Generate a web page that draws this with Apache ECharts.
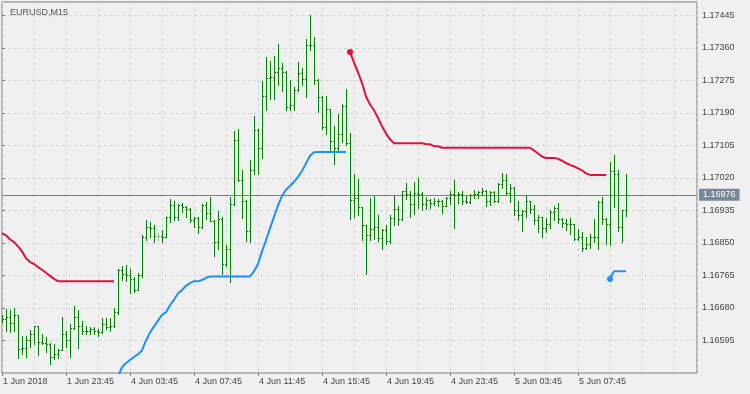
<!DOCTYPE html>
<html>
<head>
<meta charset="utf-8">
<title>EURUSD,M15</title>
<script src="https://cdn.jsdelivr.net/npm/echarts@6/dist/echarts.min.js"></script>
<style>
  html, body { margin: 0; padding: 0; background: #f0f0f0; }
  #chart { width: 750px; height: 394px; }
</style>
</head>
<body>
<div id="chart"></div>
<script>
const symbolName = 'EURUSD,M15';

// one label every 16 bars (4 hours of M15)
const timeLabels = ['1 Jun 2018', '1 Jun 23:45', '4 Jun 03:45', '4 Jun 07:45', '4 Jun 11:45',
  '4 Jun 15:45', '4 Jun 19:45', '4 Jun 23:45', '5 Jun 03:45', '5 Jun 07:45'];
const priceTicks = [1.16595, 1.16680, 1.16765, 1.16850, 1.16935, 1.17020,
  1.17105, 1.17190, 1.17275, 1.17360, 1.17445];

const barOpen = [
  1.16656, 1.16652, 1.16656, 1.16640, 1.16661, 1.16573, 1.16576, 1.16597, 1.16613, 1.16632,
  1.16591, 1.16589, 1.16586, 1.16552, 1.16560, 1.16571, 1.16613, 1.16597, 1.16628, 1.16656,
  1.16632, 1.16619, 1.16621, 1.16626, 1.16621, 1.16617, 1.16639, 1.16630, 1.16632, 1.16669,
  1.16778, 1.16769, 1.16766, 1.16755, 1.16728, 1.16765, 1.16865, 1.16891, 1.16889, 1.16867,
  1.16867, 1.16866, 1.16918, 1.16950, 1.16919, 1.16948, 1.16944, 1.16939, 1.16909, 1.16916,
  1.16891, 1.16948, 1.16928, 1.16907, 1.16852, 1.16913, 1.16796, 1.16835, 1.16952, 1.17120,
  1.17015, 1.16961, 1.16880, 1.17040, 1.17146, 1.17098, 1.17233, 1.17281, 1.17284, 1.17297,
  1.17308, 1.17297, 1.17205, 1.17210, 1.17249, 1.17294, 1.17279, 1.17368, 1.17367, 1.17277,
  1.17231, 1.17153, 1.17199, 1.17116, 1.17099, 1.17136, 1.17208, 1.17111, 1.16963, 1.16968,
  1.16944, 1.16896, 1.16870, 1.16887, 1.16891, 1.16863, 1.16885, 1.16854, 1.16916, 1.16939,
  1.16913, 1.16986, 1.16979, 1.16952, 1.16980, 1.16978, 1.16952, 1.16963, 1.16954, 1.16961,
  1.16959, 1.16947, 1.16968, 1.16977, 1.16975, 1.16979, 1.16960, 1.16957, 1.16976, 1.16979,
  1.16982, 1.16987, 1.16961, 1.16983, 1.16960, 1.17003, 1.17015, 1.16981, 1.16994, 1.16935,
  1.16924, 1.16933, 1.16959, 1.16939, 1.16911, 1.16918, 1.16890, 1.16900, 1.16930, 1.16941,
  1.16913, 1.16903, 1.16900, 1.16899, 1.16861, 1.16865, 1.16837, 1.16848, 1.16865, 1.16866,
  1.16956, 1.16913, 1.16900, 1.17037, 1.17029, 1.16893, 1.16935
];
const barHigh = [
  1.16661, 1.16678, 1.16675, 1.16681, 1.16662, 1.16608, 1.16608, 1.16623, 1.16634, 1.16634,
  1.16613, 1.16604, 1.16588, 1.16586, 1.16573, 1.16656, 1.16621, 1.16639, 1.16684, 1.16674,
  1.16647, 1.16634, 1.16630, 1.16630, 1.16626, 1.16654, 1.16654, 1.16654, 1.16681, 1.16783,
  1.16791, 1.16792, 1.16781, 1.16762, 1.16771, 1.16870, 1.16909, 1.16905, 1.16896, 1.16876,
  1.16883, 1.16919, 1.16966, 1.16961, 1.16951, 1.16954, 1.16946, 1.16941, 1.16919, 1.16918,
  1.16951, 1.16957, 1.16970, 1.16911, 1.16933, 1.16918, 1.16844, 1.16970, 1.17143, 1.17147,
  1.17042, 1.16963, 1.17066, 1.17181, 1.17149, 1.17273, 1.17336, 1.17327, 1.17340, 1.17371,
  1.17320, 1.17299, 1.17275, 1.17259, 1.17323, 1.17308, 1.17384, 1.17445, 1.17388, 1.17278,
  1.17233, 1.17233, 1.17201, 1.17155, 1.17186, 1.17214, 1.17253, 1.17137, 1.17031, 1.17018,
  1.16945, 1.16898, 1.16968, 1.16974, 1.16922, 1.16887, 1.16896, 1.16922, 1.16973, 1.16946,
  1.16987, 1.17007, 1.16985, 1.17009, 1.17020, 1.16983, 1.16970, 1.16966, 1.16968, 1.16966,
  1.16963, 1.16970, 1.16987, 1.17015, 1.16983, 1.16985, 1.16974, 1.16977, 1.16989, 1.16985,
  1.16994, 1.16988, 1.16987, 1.16986, 1.17007, 1.17033, 1.17031, 1.17005, 1.16996, 1.16959,
  1.16935, 1.16972, 1.16961, 1.16948, 1.16922, 1.16919, 1.16916, 1.16937, 1.16946, 1.16954,
  1.16916, 1.16913, 1.16916, 1.16900, 1.16887, 1.16878, 1.16865, 1.16874, 1.16913, 1.16960,
  1.16970, 1.16916, 1.17061, 1.17079, 1.17040, 1.16937, 1.17029
];
const barLow = [
  1.16643, 1.16621, 1.16617, 1.16621, 1.16550, 1.16560, 1.16552, 1.16578, 1.16586, 1.16556,
  1.16586, 1.16565, 1.16534, 1.16547, 1.16550, 1.16569, 1.16578, 1.16552, 1.16626, 1.16576,
  1.16613, 1.16613, 1.16613, 1.16613, 1.16608, 1.16615, 1.16626, 1.16621, 1.16630, 1.16665,
  1.16752, 1.16750, 1.16719, 1.16721, 1.16726, 1.16761, 1.16857, 1.16865, 1.16852, 1.16859,
  1.16852, 1.16865, 1.16905, 1.16909, 1.16909, 1.16931, 1.16919, 1.16905, 1.16891, 1.16876,
  1.16889, 1.16913, 1.16907, 1.16817, 1.16835, 1.16768, 1.16791, 1.16748, 1.16950, 1.17013,
  1.16915, 1.16855, 1.16852, 1.17031, 1.17031, 1.17073, 1.17197, 1.17227, 1.17227, 1.17262,
  1.17247, 1.17198, 1.17198, 1.17198, 1.17247, 1.17262, 1.17231, 1.17355, 1.17265, 1.17192,
  1.17149, 1.17134, 1.17090, 1.17057, 1.17094, 1.17114, 1.17105, 1.16913, 1.16919, 1.16922,
  1.16857, 1.16769, 1.16858, 1.16861, 1.16855, 1.16835, 1.16848, 1.16850, 1.16896, 1.16896,
  1.16911, 1.16966, 1.16919, 1.16926, 1.16942, 1.16935, 1.16939, 1.16942, 1.16948, 1.16946,
  1.16928, 1.16946, 1.16951, 1.16889, 1.16954, 1.16951, 1.16954, 1.16955, 1.16968, 1.16967,
  1.16976, 1.16946, 1.16948, 1.16957, 1.16957, 1.16994, 1.16979, 1.16957, 1.16924, 1.16911,
  1.16881, 1.16919, 1.16928, 1.16899, 1.16878, 1.16865, 1.16878, 1.16890, 1.16911, 1.16902,
  1.16893, 1.16883, 1.16874, 1.16858, 1.16857, 1.16829, 1.16835, 1.16836, 1.16852, 1.16835,
  1.16899, 1.16846, 1.16845, 1.16944, 1.16881, 1.16852, 1.16920
];
const barClose = [
  1.16652, 1.16656, 1.16640, 1.16661, 1.16573, 1.16576, 1.16597, 1.16613, 1.16632, 1.16591,
  1.16589, 1.16586, 1.16552, 1.16560, 1.16571, 1.16613, 1.16597, 1.16628, 1.16656, 1.16632,
  1.16619, 1.16621, 1.16626, 1.16621, 1.16617, 1.16639, 1.16630, 1.16632, 1.16669, 1.16778,
  1.16769, 1.16766, 1.16755, 1.16728, 1.16765, 1.16865, 1.16891, 1.16889, 1.16867, 1.16867,
  1.16866, 1.16918, 1.16950, 1.16919, 1.16948, 1.16944, 1.16939, 1.16909, 1.16916, 1.16891,
  1.16948, 1.16928, 1.16907, 1.16852, 1.16913, 1.16796, 1.16835, 1.16952, 1.17120, 1.17015,
  1.16961, 1.16880, 1.17040, 1.17146, 1.17098, 1.17233, 1.17281, 1.17284, 1.17297, 1.17308,
  1.17297, 1.17205, 1.17210, 1.17249, 1.17294, 1.17279, 1.17368, 1.17367, 1.17277, 1.17231,
  1.17153, 1.17199, 1.17116, 1.17099, 1.17136, 1.17208, 1.17111, 1.16963, 1.16968, 1.16944,
  1.16896, 1.16870, 1.16887, 1.16891, 1.16863, 1.16885, 1.16854, 1.16916, 1.16939, 1.16913,
  1.16986, 1.16979, 1.16952, 1.16980, 1.16978, 1.16952, 1.16963, 1.16954, 1.16961, 1.16959,
  1.16947, 1.16968, 1.16977, 1.16975, 1.16979, 1.16960, 1.16957, 1.16976, 1.16979, 1.16982,
  1.16987, 1.16961, 1.16983, 1.16960, 1.17003, 1.17015, 1.16981, 1.16994, 1.16935, 1.16924,
  1.16933, 1.16959, 1.16939, 1.16911, 1.16918, 1.16890, 1.16900, 1.16930, 1.16941, 1.16913,
  1.16903, 1.16900, 1.16899, 1.16861, 1.16865, 1.16837, 1.16848, 1.16865, 1.16866, 1.16956,
  1.16913, 1.16900, 1.17037, 1.17029, 1.16893, 1.16935, 1.16976
];

// trailing stop lines, each segment starts at a bar index
const upperStartA = 0;
const upperA = [1.16876, 1.16870, 1.16859, 1.16852, 1.16841, 1.16828, 1.16810, 1.16800, 1.16795, 1.16787,
  1.16780, 1.16772, 1.16764, 1.16756, 1.16750, 1.16750, 1.16750, 1.16750, 1.16750, 1.16750,
  1.16750, 1.16750, 1.16750, 1.16750, 1.16750, 1.16750, 1.16750, 1.16750, 1.16750];
const upperStartB = 87;
const upperB = [1.17349, 1.17322, 1.17296, 1.17268, 1.17233, 1.17212, 1.17197, 1.17177, 1.17155, 1.17136,
  1.17121, 1.17111, 1.17111, 1.17111, 1.17111, 1.17111, 1.17111, 1.17111, 1.17111, 1.17108,
  1.17108, 1.17103, 1.17103, 1.17099, 1.17099, 1.17099, 1.17099, 1.17099, 1.17099, 1.17099,
  1.17099, 1.17099, 1.17099, 1.17099, 1.17099, 1.17099, 1.17099, 1.17099, 1.17099, 1.17099,
  1.17099, 1.17099, 1.17099, 1.17099, 1.17099, 1.17099, 1.17092, 1.17084, 1.17076, 1.17072,
  1.17072, 1.17072, 1.17070, 1.17065, 1.17059, 1.17054, 1.17050, 1.17045, 1.17040, 1.17032,
  1.17028, 1.17028, 1.17028, 1.17028, 1.17028];
const lowerStartA = 29;
const lowerA = [1.16501, 1.16525, 1.16536, 1.16544, 1.16552, 1.16559, 1.16569, 1.16595, 1.16616, 1.16632,
  1.16647, 1.16662, 1.16669, 1.16687, 1.16702, 1.16718, 1.16727, 1.16738, 1.16745, 1.16750,
  1.16750, 1.16753, 1.16759, 1.16762, 1.16762, 1.16762, 1.16762, 1.16762, 1.16762, 1.16762,
  1.16762, 1.16762, 1.16762, 1.16762, 1.16776, 1.16795, 1.16828, 1.16857, 1.16888, 1.16918,
  1.16948, 1.16973, 1.16989, 1.16999, 1.17010, 1.17023, 1.17038, 1.17058, 1.17078, 1.17087,
  1.17088, 1.17088, 1.17088, 1.17088, 1.17088, 1.17088, 1.17088, 1.17088];
const lowerStartB = 152;
const lowerB = [1.16756, 1.16776, 1.16776, 1.16776, 1.16776];

const lastPrice = 1.16976;
const priceMin = 1.16510;
const priceMax = 1.17480;
const priceStep = 0.00085;
const barsPerLabel = 16;
const barsPerGrid = 8;
const xMax = 173.75;

const font = '"Liberation Sans", Arial, sans-serif';
const textColor = '#444';
const frameColor = '#7a7a7a';
const gridColor = '#d2d2d2';

const bars = barOpen.map((o, i) => [i, o, barHigh[i], barLow[i], barClose[i]]);

function buildLine(segments) {
  const out = barOpen.map((o, i) => [i, null]);
  segments.forEach(([start, vals]) => {
    vals.forEach((v, k) => {
      const i = start + k;
      // a new segment after a gap gets a round marker
      out[i] = (k === 0 && i > 0) ? { value: [i, v], symbol: 'circle', symbolSize: 6 } : [i, v];
    });
  });
  return out;
}

// MT4 style OHLC bar: high-low stick, open tick left, close tick right
function renderBar(params, api) {
  const i = api.value(0);
  const x = Math.round(api.coord([i, priceMin])[0]);
  const yo = Math.round(api.coord([i, api.value(1)])[1]);
  const yh = Math.round(api.coord([i, api.value(2)])[1]);
  const yl = Math.round(api.coord([i, api.value(3)])[1]);
  const yc = Math.round(api.coord([i, api.value(4)])[1]);
  const color = api.value(1) === api.value(4) ? '#a8a8a8' : '#008000';
  return {
    type: 'group',
    children: [
      { type: 'rect', shape: { x: x, y: yh, width: 1, height: yl - yh + 1 }, style: { fill: color } },
      { type: 'rect', shape: { x: x - 1, y: yo, width: 1, height: 1 }, style: { fill: color } },
      { type: 'rect', shape: { x: x + 1, y: yc, width: 1, height: 1 }, style: { fill: color } }
    ]
  };
}

const chart = echarts.init(document.getElementById('chart'), null, { renderer: 'canvas' });

const option = {
  animation: false,
  backgroundColor: '#f0f0f0',
  title: {
    text: symbolName, left: 5, top: 3,
    textStyle: { fontSize: 9, fontWeight: 'normal', color: '#555', fontFamily: font }
  },
  grid: {
    left: 2, top: 2, right: 53, bottom: 21,
    show: true, borderColor: frameColor, borderWidth: 1, backgroundColor: 'transparent'
  },
  xAxis: [
    {
      type: 'value', position: 'bottom', min: 0, max: xMax, interval: barsPerGrid,
      axisLine: { show: false }, axisTick: { show: false }, axisLabel: { show: false },
      splitLine: { show: true, lineStyle: { color: gridColor, type: [3, 3] } }
    },
    {
      type: 'value', position: 'bottom', min: 0, max: xMax, interval: barsPerLabel,
      axisLine: { show: false },
      axisTick: {
        show: true, length: 3, lineStyle: { color: frameColor },
        customValues: timeLabels.map((t, k) => k * barsPerLabel)
      },
      axisLabel: {
        customValues: timeLabels.map((t, k) => k * barsPerLabel),
        formatter: v => timeLabels[v / barsPerLabel] || '',
        align: 'left', margin: 4, padding: [0, 0, 0, 1],
        fontSize: 9, color: textColor, fontFamily: font
      },
      splitLine: { show: false }
    }
  ],
  yAxis: {
    type: 'value', position: 'right', min: priceMin, max: priceMax, interval: priceStep,
    axisLine: { show: false },
    axisTick: { show: true, length: 3, lineStyle: { color: frameColor }, customValues: priceTicks },
    axisLabel: {
      customValues: priceTicks,
      formatter: v => v.toFixed(5), margin: 5,
      fontSize: 9, color: textColor, fontFamily: font
    },
    splitLine: { show: true, lineStyle: { color: gridColor, type: [3, 3] } }
  },
  series: [
    {
      type: 'custom', name: 'EURUSD', xAxisIndex: 0, z: 2, clip: true,
      renderItem: renderBar, data: bars, encode: { x: 0, y: [1, 2, 3, 4] }
    },
    {
      type: 'line', name: 'upper', xAxisIndex: 0, z: 3, symbol: 'none', connectNulls: false,
      data: buildLine([[upperStartA, upperA], [upperStartB, upperB]]),
      lineStyle: { color: '#dc143c', width: 2 }, itemStyle: { color: '#dc143c' },
      emphasis: { disabled: true }
    },
    {
      type: 'line', name: 'lower', xAxisIndex: 0, z: 3, symbol: 'none', connectNulls: false,
      data: buildLine([[lowerStartA, lowerA], [lowerStartB, lowerB]]),
      lineStyle: { color: '#1e90ff', width: 2 }, itemStyle: { color: '#1e90ff' },
      emphasis: { disabled: true },
      markLine: {
        silent: true, z: 1, symbol: ['none', 'none'], animation: false, precision: 5,
        data: [{ yAxis: lastPrice }],
        lineStyle: { color: '#808080', width: 1, type: 'solid' },
        label: {
          show: true, position: 'end', distance: 2,
          formatter: lastPrice.toFixed(5),
          color: '#fff', backgroundColor: '#778899', padding: [2, 4, 1, 4],
          fontSize: 9, fontFamily: font
        },
        emphasis: { disabled: true }
      }
    }
  ]
};

chart.setOption(option);
</script>
</body>
</html>
